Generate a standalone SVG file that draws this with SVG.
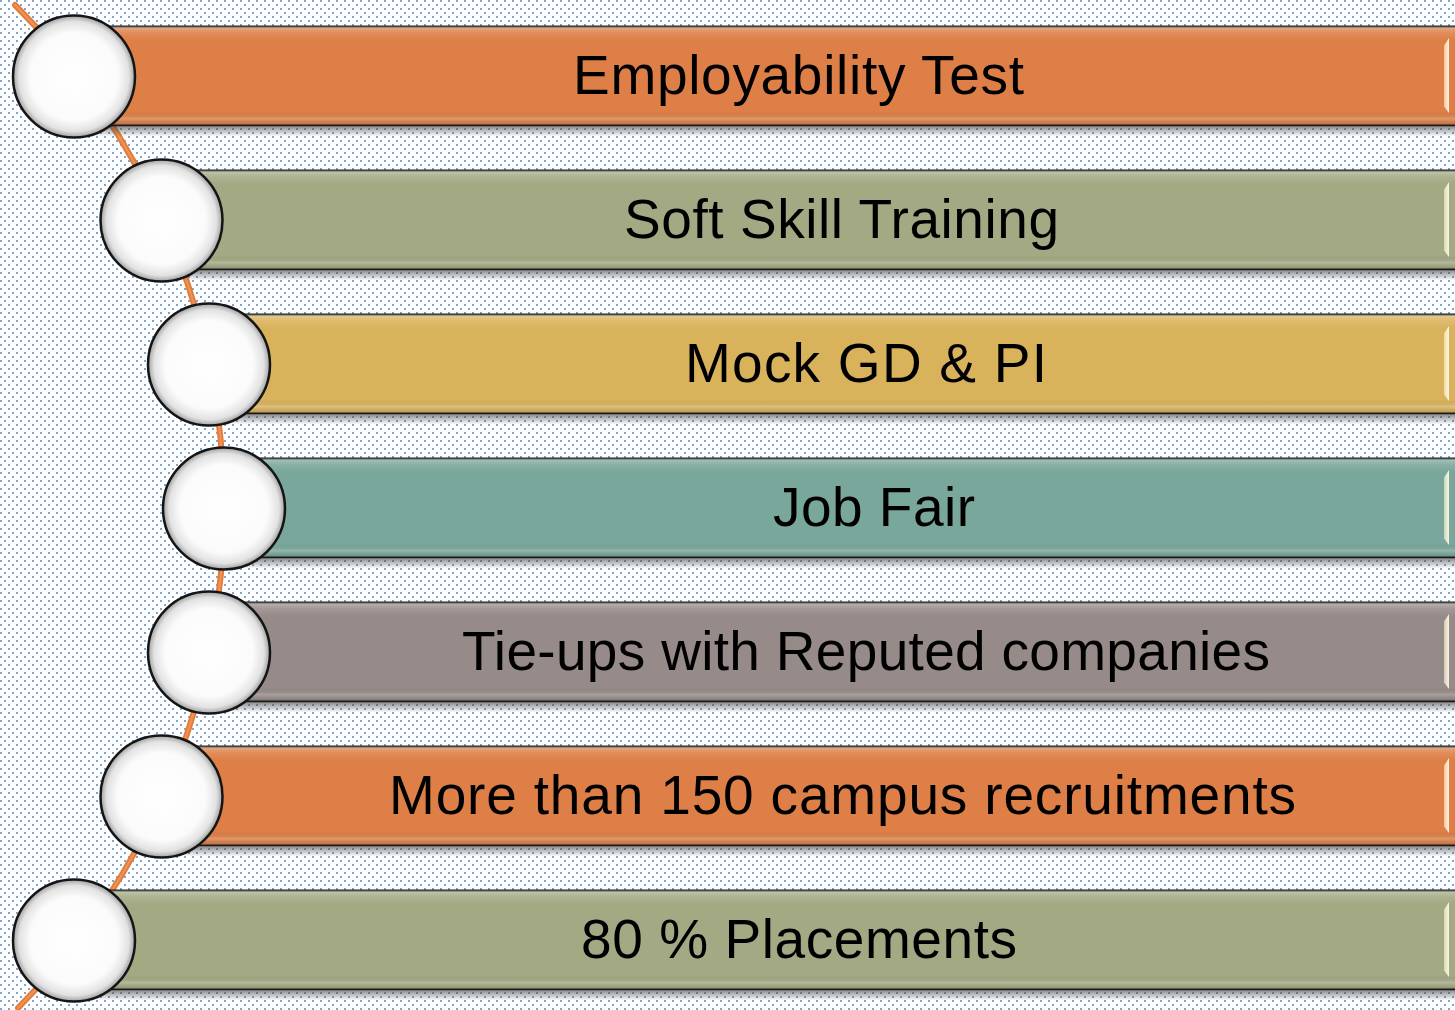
<svg xmlns="http://www.w3.org/2000/svg" width="1455" height="1010" viewBox="0 0 1455 1010">
  <defs>
    <pattern id="dots" width="8" height="8" patternUnits="userSpaceOnUse">
      <rect x="0" y="0" width="2" height="2" fill="#80a5cd"/>
      <rect x="4" y="4" width="2" height="2" fill="#80a5cd"/>
    </pattern>
    <linearGradient id="gloss" x1="0" y1="0" x2="0" y2="1">
      <stop offset="0" stop-color="#ffffff" stop-opacity="0.35"/>
      <stop offset="0.06" stop-color="#ffffff" stop-opacity="0.12"/>
      <stop offset="0.14" stop-color="#ffffff" stop-opacity="0"/>
      <stop offset="0.86" stop-color="#000000" stop-opacity="0"/>
      <stop offset="0.93" stop-color="#ffffff" stop-opacity="0.18"/>
      <stop offset="1" stop-color="#000000" stop-opacity="0.15"/>
    </linearGradient>
    <linearGradient id="shadow" x1="0" y1="0" x2="0" y2="1">
      <stop offset="0" stop-color="#444444" stop-opacity="0.6"/>
      <stop offset="1" stop-color="#444444" stop-opacity="0"/>
    </linearGradient>
    <linearGradient id="bevel" x1="0" y1="0" x2="1" y2="0">
      <stop offset="0" stop-color="#fff6d8" stop-opacity="0.6"/>
      <stop offset="1" stop-color="#fffbe8" stop-opacity="0.95"/>
    </linearGradient>
    <radialGradient id="ball" cx="0.5" cy="0.5" r="0.5">
      <stop offset="0" stop-color="#ffffff"/>
      <stop offset="0.72" stop-color="#fbfbfb"/>
      <stop offset="0.9" stop-color="#e2e2e2"/>
      <stop offset="1" stop-color="#a0a0a0"/>
    </radialGradient>
    <style>
      .bar { stroke: #1c1c1c; stroke-width: 2; }
      .ball { fill: url(#ball); stroke: #151515; stroke-width: 2.5; }
      .lbl { font-family: "Liberation Sans", Arial, sans-serif; font-size: 55px; fill: #000000; text-anchor: middle; }
      .o { fill: #dd7f47; }
      .g { fill: #a3a983; }
      .y { fill: #d9b25c; }
      .t { fill: #79a79b; }
      .m { fill: #978b89; }
    </style>
  </defs>

  <rect x="0" y="0" width="1455" height="1010" fill="#ffffff"/>
  <rect x="0" y="0" width="1455" height="1010" fill="url(#dots)"/>

  <g id="connectors">
    <path d="M 15 5 A 710 710 0 0 1 18 1008" fill="none" stroke="#e27d3b" stroke-width="6" stroke-linecap="round"/>
    <path d="M 15 5 A 710 710 0 0 1 18 1008" fill="none" stroke="#ee9456" stroke-width="2" stroke-linecap="round"/>
  </g>

  <g id="node1">
    <rect x="74" y="126.5" width="1390" height="10" fill="url(#shadow)"/>
    <rect class="bar o" x="74" y="26.5" width="1390" height="99"/>
    <rect x="74" y="26.5" width="1390" height="99" fill="url(#gloss)"/>
    <polygon points="1444,45.5 1449,38 1449,113 1444,106.5" fill="url(#bevel)"/>
    <circle class="ball" cx="74" cy="76.5" r="61"/>
    <text class="lbl" x="798.5" y="93.5" textLength="451" lengthAdjust="spacing">Employability Test</text>
  </g>

  <g id="node2">
    <rect x="161.5" y="270.5" width="1300" height="10" fill="url(#shadow)"/>
    <rect class="bar g" x="161.5" y="170.5" width="1300" height="99"/>
    <rect x="161.5" y="170.5" width="1300" height="99" fill="url(#gloss)"/>
    <polygon points="1444,189.5 1449,182 1449,257 1444,250.5" fill="url(#bevel)"/>
    <circle class="ball" cx="161.5" cy="220.5" r="61"/>
    <text class="lbl" x="841.5" y="237.5" textLength="435" lengthAdjust="spacing">Soft Skill Training</text>
  </g>

  <g id="node3">
    <rect x="209" y="414.5" width="1260" height="10" fill="url(#shadow)"/>
    <rect class="bar y" x="209" y="314.5" width="1260" height="99"/>
    <rect x="209" y="314.5" width="1260" height="99" fill="url(#gloss)"/>
    <polygon points="1444,333.5 1449,326 1449,401 1444,394.5" fill="url(#bevel)"/>
    <circle class="ball" cx="209" cy="364.5" r="61"/>
    <text class="lbl" x="866" y="381.5" textLength="362" lengthAdjust="spacing">Mock GD &amp; PI</text>
  </g>

  <g id="node4">
    <rect x="224" y="558.5" width="1240" height="10" fill="url(#shadow)"/>
    <rect class="bar t" x="224" y="458.5" width="1240" height="99"/>
    <rect x="224" y="458.5" width="1240" height="99" fill="url(#gloss)"/>
    <polygon points="1444,477.5 1449,470 1449,545 1444,538.5" fill="url(#bevel)"/>
    <circle class="ball" cx="224" cy="508.5" r="61"/>
    <text class="lbl" x="874" y="525.5" textLength="202" lengthAdjust="spacing">Job Fair</text>
  </g>

  <g id="node5">
    <rect x="209" y="702.5" width="1260" height="10" fill="url(#shadow)"/>
    <rect class="bar m" x="209" y="602.5" width="1260" height="99"/>
    <rect x="209" y="602.5" width="1260" height="99" fill="url(#gloss)"/>
    <polygon points="1444,621.5 1449,614 1449,689 1444,682.5" fill="url(#bevel)"/>
    <circle class="ball" cx="209" cy="652.5" r="61"/>
    <text class="lbl" x="866" y="669.5" textLength="808" lengthAdjust="spacing">Tie-ups with Reputed companies</text>
  </g>

  <g id="node6">
    <rect x="161.5" y="846.5" width="1300" height="10" fill="url(#shadow)"/>
    <rect class="bar o" x="161.5" y="746.5" width="1300" height="99"/>
    <rect x="161.5" y="746.5" width="1300" height="99" fill="url(#gloss)"/>
    <polygon points="1444,765.5 1449,758 1449,833 1444,826.5" fill="url(#bevel)"/>
    <circle class="ball" cx="161.5" cy="796.5" r="61"/>
    <text class="lbl" x="842.5" y="813.5" textLength="907" lengthAdjust="spacing">More than 150 campus recruitments</text>
  </g>

  <g id="node7">
    <rect x="74" y="990.5" width="1390" height="10" fill="url(#shadow)"/>
    <rect class="bar g" x="74" y="890.5" width="1390" height="99"/>
    <rect x="74" y="890.5" width="1390" height="99" fill="url(#gloss)"/>
    <polygon points="1444,909.5 1449,902 1449,977 1444,970.5" fill="url(#bevel)"/>
    <circle class="ball" cx="74" cy="940.5" r="61"/>
    <text class="lbl" x="799" y="957.5" textLength="436" lengthAdjust="spacing">80 % Placements</text>
  </g>
</svg>
